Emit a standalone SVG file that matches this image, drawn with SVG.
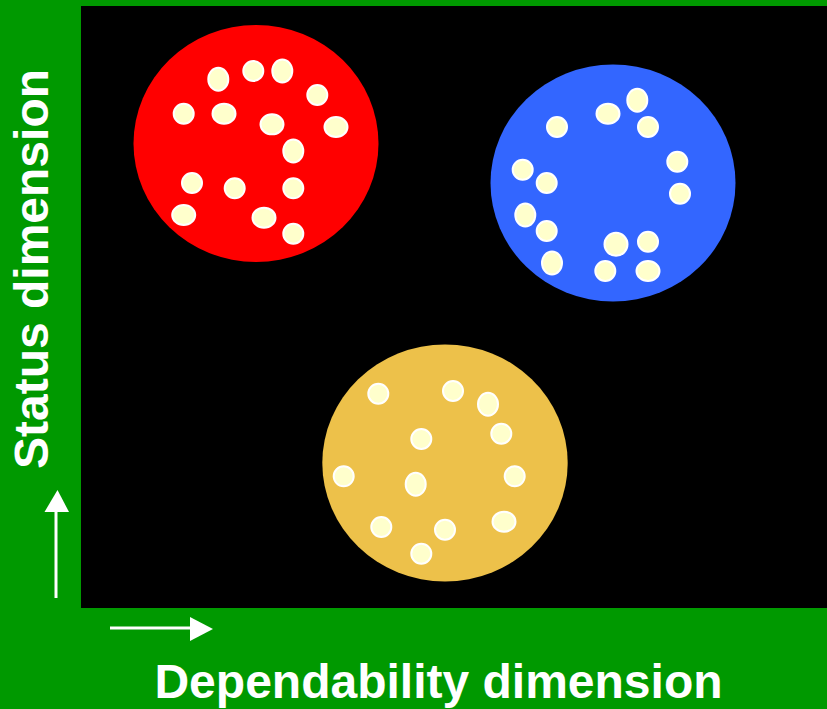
<svg xmlns="http://www.w3.org/2000/svg" width="827" height="709" viewBox="0 0 827 709">
<style>
.dot{fill:#FFFFCC;stroke:#FFFFFF;stroke-width:2}
.lbl{font-family:"Liberation Sans",Arial,sans-serif;font-weight:bold;font-size:48px;fill:#FFFFFF}
.ax{stroke:#FFFFFF;stroke-width:3;fill:none}
.head{fill:#FFFFFF}
</style>
<rect x="0" y="0" width="827" height="709" fill="#009900"/>
<rect id="plot" x="81" y="6" width="746" height="602" fill="#000000"/>
<g id="connectors">
<line class="ax" x1="56" y1="598" x2="56" y2="512"/>
<path class="head" d="M44.5,512 L57.5,490 L69,512 Z"/>
<line class="ax" x1="110" y1="628" x2="191" y2="628"/>
<path class="head" d="M190,617 L213,629 L190,641 Z"/>
</g>
<g id="red">
<ellipse cx="256" cy="143.5" rx="122.5" ry="118.5" fill="#FF0000"/>
<ellipse class="dot" cx="218.3" cy="79.3" rx="10" ry="11.5"/>
<ellipse class="dot" cx="253.3" cy="71" rx="10" ry="10"/>
<ellipse class="dot" cx="282.3" cy="71" rx="10" ry="11.5"/>
<ellipse class="dot" cx="317.3" cy="95" rx="10" ry="10"/>
<ellipse class="dot" cx="183.7" cy="113.7" rx="10" ry="10"/>
<ellipse class="dot" cx="224" cy="113.7" rx="11.5" ry="10"/>
<ellipse class="dot" cx="272" cy="124.3" rx="11.5" ry="10"/>
<ellipse class="dot" cx="336" cy="127" rx="11.5" ry="10"/>
<ellipse class="dot" cx="293.3" cy="151" rx="10" ry="11.5"/>
<ellipse class="dot" cx="192" cy="183" rx="10" ry="10"/>
<ellipse class="dot" cx="234.7" cy="188.3" rx="10" ry="10"/>
<ellipse class="dot" cx="293.3" cy="188.3" rx="10" ry="10"/>
<ellipse class="dot" cx="183.7" cy="215" rx="11.5" ry="10"/>
<ellipse class="dot" cx="264" cy="217.7" rx="11.5" ry="10"/>
<ellipse class="dot" cx="293.3" cy="233.7" rx="10" ry="10"/>
</g>
<g id="blue">
<ellipse cx="613" cy="183" rx="122.5" ry="118.5" fill="#3366FF"/>
<ellipse class="dot" cx="557" cy="127" rx="10" ry="10"/>
<ellipse class="dot" cx="608" cy="113.7" rx="11.5" ry="10"/>
<ellipse class="dot" cx="637.3" cy="100.3" rx="10" ry="11.5"/>
<ellipse class="dot" cx="648" cy="127" rx="10" ry="10"/>
<ellipse class="dot" cx="677.3" cy="161.7" rx="10" ry="10"/>
<ellipse class="dot" cx="680" cy="193.7" rx="10" ry="10"/>
<ellipse class="dot" cx="522.7" cy="169.7" rx="10" ry="10"/>
<ellipse class="dot" cx="546.7" cy="183" rx="10" ry="10"/>
<ellipse class="dot" cx="525.3" cy="215" rx="10" ry="11.5"/>
<ellipse class="dot" cx="546.7" cy="231" rx="10" ry="10"/>
<ellipse class="dot" cx="616" cy="244.3" rx="11.5" ry="11.5"/>
<ellipse class="dot" cx="648" cy="241.7" rx="10" ry="10"/>
<ellipse class="dot" cx="552" cy="263" rx="10" ry="11.5"/>
<ellipse class="dot" cx="605.3" cy="271" rx="10" ry="10"/>
<ellipse class="dot" cx="648" cy="271" rx="11.5" ry="10"/>
</g>
<g id="yellow">
<ellipse cx="445" cy="463" rx="122.7" ry="118.5" fill="#EDC14A"/>
<ellipse class="dot" cx="378.3" cy="393.7" rx="10" ry="10"/>
<ellipse class="dot" cx="453" cy="391" rx="10" ry="10"/>
<ellipse class="dot" cx="488" cy="404.3" rx="10" ry="11.5"/>
<ellipse class="dot" cx="421.3" cy="439" rx="10" ry="10"/>
<ellipse class="dot" cx="501.3" cy="433.7" rx="10" ry="10"/>
<ellipse class="dot" cx="343.7" cy="476.3" rx="10" ry="10"/>
<ellipse class="dot" cx="415.7" cy="484.3" rx="10" ry="11.5"/>
<ellipse class="dot" cx="514.7" cy="476.3" rx="10" ry="10"/>
<ellipse class="dot" cx="381.3" cy="527" rx="10" ry="10"/>
<ellipse class="dot" cx="445" cy="529.7" rx="10" ry="10"/>
<ellipse class="dot" cx="504" cy="521.7" rx="11.5" ry="10"/>
<ellipse class="dot" cx="421.3" cy="553.7" rx="10" ry="10"/>
</g>
<g id="xlabel">
<text class="lbl" x="438.5" y="698" text-anchor="middle">Dependability dimension</text>
</g>
<g id="ylabel">
<text class="lbl" x="0" y="0" text-anchor="middle" transform="translate(48,269) rotate(-90)">Status dimension</text>
</g>
</svg>
